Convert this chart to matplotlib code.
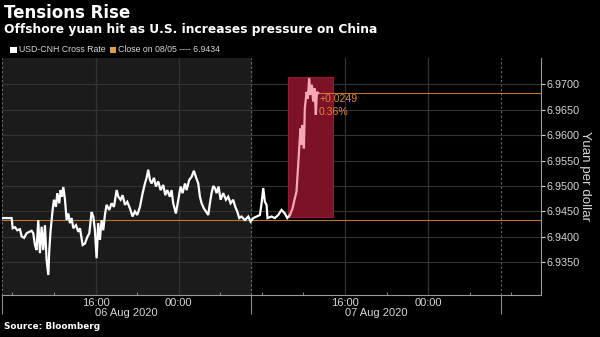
import matplotlib.pyplot as plt
from matplotlib.patches import Rectangle

# ==========================================================
# DATA  (hours after 07:00 on 06 Aug 2020, USD-CNH)
# ==========================================================

hours = [
    0.00, 0.93, 1.03, 1.25, 1.47, 1.73, 1.89, 2.12, 2.37, 2.63,
    2.85, 3.01, 3.17, 3.33, 3.49, 3.65, 3.81, 3.97, 4.13, 4.29,
    4.46, 4.55, 4.68, 4.87, 5.00, 5.19, 5.32, 5.51, 5.64, 5.77,
    5.90, 6.06, 6.22, 6.38, 6.54, 6.70, 6.86, 7.12, 7.34, 7.50,
    7.76, 7.98, 8.21, 8.40, 8.62, 8.78, 8.94, 9.10, 9.26, 9.42,
    9.58, 9.74, 9.90, 10.06, 10.32, 10.54, 10.77, 11.03, 11.19, 11.41,
    11.60, 11.83, 12.05, 12.31, 12.56, 12.79, 13.01, 13.27, 13.53, 13.75,
    13.91, 14.07, 14.23, 14.39, 14.62, 14.81, 15.03, 15.26, 15.51, 15.71,
    15.90, 16.15, 16.31, 16.47, 16.73, 16.96, 17.18, 17.37, 17.60, 17.76,
    18.01, 18.24, 18.46, 18.65, 18.88, 19.04, 19.20, 19.42, 19.62, 19.84,
    20.00, 20.16, 20.32, 20.48, 20.64, 20.83, 21.03, 21.28, 21.54, 21.76,
    21.99, 22.24, 22.44, 22.63, 22.82, 23.04, 23.37, 23.69, 23.91, 24.17,
    24.49, 24.81, 24.97, 25.13, 25.29, 25.45, 25.54, 25.93, 26.25, 26.57,
    26.89, 27.21, 27.44, 27.69, 27.95, 28.17, 28.33, 28.49, 28.59, 28.72,
    28.81, 28.90, 29.04, 29.13, 29.30, 29.42, 29.55, 29.68, 29.81, 29.94,
    30.07, 30.19, 30.29, 30.41,
]

rate = [
    6.9437, 6.9437, 6.9417, 6.9419, 6.9413, 6.9415, 6.9401, 6.9398, 6.9407, 6.9410,
    6.9412, 6.9407, 6.9384, 6.9374, 6.9433, 6.9368, 6.9420, 6.9374, 6.9423, 6.9355,
    6.9325, 6.9374, 6.9413, 6.9453, 6.9473, 6.9459, 6.9486, 6.9466, 6.9492, 6.9479,
    6.9498, 6.9473, 6.9433, 6.9446, 6.9427, 6.9437, 6.9417, 6.9423, 6.9410, 6.9417,
    6.9384, 6.9387, 6.9400, 6.9407, 6.9449, 6.9440, 6.9413, 6.9358, 6.9427, 6.9394,
    6.9433, 6.9413, 6.9443, 6.9463, 6.9453, 6.9466, 6.9459, 6.9492, 6.9479, 6.9473,
    6.9482, 6.9463, 6.9469, 6.9456, 6.9440, 6.9450, 6.9443, 6.9459, 6.9486, 6.9505,
    6.9516, 6.9532, 6.9512, 6.9505, 6.9516, 6.9499, 6.9509, 6.9492, 6.9502, 6.9482,
    6.9492, 6.9479, 6.9492, 6.9466, 6.9446, 6.9473, 6.9499, 6.9486, 6.9505, 6.9492,
    6.9512, 6.9518, 6.9530, 6.9518, 6.9505, 6.9479, 6.9466, 6.9456, 6.9450, 6.9443,
    6.9466, 6.9486, 6.9500, 6.9496, 6.9486, 6.9499, 6.9473, 6.9486, 6.9473, 6.9479,
    6.9466, 6.9473, 6.9459, 6.9450, 6.9437, 6.9440, 6.9433, 6.9440, 6.9430, 6.9437,
    6.9440, 6.9443, 6.9466, 6.9496, 6.9469, 6.9463, 6.9437, 6.9440, 6.9437, 6.9443,
    6.9453, 6.9446, 6.9437, 6.9443, 6.9456, 6.9476, 6.9489, 6.9541, 6.9574, 6.9613,
    6.9581, 6.9620, 6.9574, 6.9653, 6.9685, 6.9672, 6.9712, 6.9679, 6.9699, 6.9666,
    6.9692, 6.9640, 6.9685, 6.9683,
]

prev_close = 6.9434

# highlighted move on 07 Aug
spike_start, spike_end = 27.53, 31.86
spike_low, spike_high = 6.9440, 6.9715

time_ticks = [9, 17, 33, 41]
time_labels = ["16:00", "00:00", "16:00", "00:00"]
minor_ticks = [1, 5, 9, 13, 17, 21, 25, 29, 33, 37, 41, 45, 49]
sessions = [0, 24, 48]
session_mid = [12, 36]
session_labels = ["06 Aug 2020", "07 Aug 2020"]
y_ticks = [6.935, 6.940, 6.945, 6.950, 6.955, 6.960, 6.965, 6.970]

# ==========================================================
# STYLE
# ==========================================================

plt.rcParams["font.family"] = ["Liberation Sans", "DejaVu Sans"]
BOLD = "DejaVu Sans"

BG = "#000000"
SESSION_BG = "#1b1b1b"
GRID = "#333333"
TEXT = "#d6d6d6"
ORANGE = "#d9893a"

fig = plt.figure(figsize=(6, 3.37), dpi=100, facecolor=BG)
ax = fig.add_axes([0.0033, 0.1246, 0.8984, 0.7033])
ax.set_facecolor(BG)

ax.set_xlim(0, 51.85)
ax.set_ylim(6.92857, 6.97517)

# shaded first session + session separators
ax.axvspan(sessions[0], sessions[1], color=SESSION_BG, zorder=0)
for s in sessions:
    ax.axvline(s, color="#6a6a6a", linestyle=(0, (2, 2)), linewidth=0.8, zorder=1)

for t in time_ticks:
    ax.axvline(t, color=GRID, linewidth=0.9, zorder=1)
for yv in y_ticks:
    ax.axhline(yv, color=GRID, linewidth=0.8, zorder=1)

# ==========================================================
# LINES
# ==========================================================

ax.axhline(prev_close, color=ORANGE, linewidth=0.8, alpha=0.85, zorder=2)

split = next(i for i, h in enumerate(hours) if h >= spike_start)

ax.add_patch(Rectangle(
    (spike_start, spike_low),
    spike_end - spike_start,
    spike_high - spike_low,
    facecolor="#7c1226",
    edgecolor="#9a1a30",
    linewidth=0.8,
    zorder=2,
))

ax.plot(hours[:split + 1], rate[:split + 1], color="white", linewidth=1.6,
        solid_joinstyle="miter", zorder=3)
ax.plot(hours[split:], rate[split:], color="#f6a7b6", linewidth=1.6,
        solid_joinstyle="miter", zorder=3)

last = rate[-1]
change = last - prev_close
pct = change / prev_close * 100

ax.plot([hours[-1], 51.85], [last, last], color=ORANGE, linewidth=0.8, alpha=0.85, zorder=2)
ax.text(hours[-1] + 0.15, last - 0.0012, f"+{change:.4f}",
        color=ORANGE, fontsize=7.6, va="center", ha="left", zorder=4)
ax.text(hours[-1] + 0.05, last - 0.0037, f"{pct:.2f}%",
        color=ORANGE, fontsize=7.6, va="center", ha="left", zorder=4)

# ==========================================================
# AXES
# ==========================================================

for side in ["left", "top"]:
    ax.spines[side].set_visible(False)
ax.spines["right"].set_color("#9a9a9a")
ax.spines["bottom"].set_color("#9a9a9a")

ax.yaxis.tick_right()
ax.set_yticks(y_ticks)
ax.set_yticklabels([f"{v:.4f}" for v in y_ticks])
ax.tick_params(axis="y", colors=TEXT, labelsize=7.8, length=3, width=0.8, pad=1)

ax.set_xticks(time_ticks)
ax.set_xticklabels(time_labels)
ax.set_xticks(minor_ticks, minor=True)
ax.tick_params(axis="x", which="major", length=0, colors=TEXT, labelsize=8, pad=2)
ax.tick_params(axis="x", which="minor", direction="in", length=2.5, color="#9a9a9a")

sec = ax.secondary_xaxis("bottom")
sec.set_xticks(sessions)
sec.set_xticklabels([])
sec.tick_params(length=14, width=0.8, color="#8a8a8a")
sec.spines["bottom"].set_visible(False)

for mid, lab in zip(session_mid, session_labels):
    ax.text(mid, -0.075, lab, transform=ax.get_xaxis_transform(),
            color=TEXT, fontsize=8, ha="center", va="center")

fig.text(0.975, 0.478, "Yuan per dollar", rotation=270, color=TEXT,
         fontsize=9.6, ha="center", va="center")

# ==========================================================
# TITLES / LEGEND / SOURCE
# ==========================================================

fig.text(0.007, 0.962, "Tensions Rise", color="white", fontsize=12.0,
         family=BOLD, fontweight="bold", ha="left", va="center")
fig.text(0.007, 0.912, "Offshore yuan hit as U.S. increases pressure on China",
         color="white", fontsize=8.8, family=BOLD, fontweight="bold",
         ha="left", va="center")

fig.add_artist(Rectangle((0.017, 0.843), 0.011, 0.019, transform=fig.transFigure,
                         facecolor="white", edgecolor="none"))
fig.text(0.031, 0.853, "USD-CNH Cross Rate", color=TEXT, fontsize=6.3,
         ha="left", va="center")
fig.add_artist(Rectangle((0.183, 0.843), 0.011, 0.019, transform=fig.transFigure,
                         facecolor="#e0a040", edgecolor="none"))
fig.text(0.197, 0.853, f"Close on 08/05 ---- {prev_close:.4f}", color=TEXT,
         fontsize=6.3, ha="left", va="center")

fig.text(0.007, 0.030, "Source: Bloomberg", color="white", fontsize=6.4,
         family=BOLD, fontweight="bold", ha="left", va="center")

fig.savefig("out.png", dpi=100, facecolor=BG)
